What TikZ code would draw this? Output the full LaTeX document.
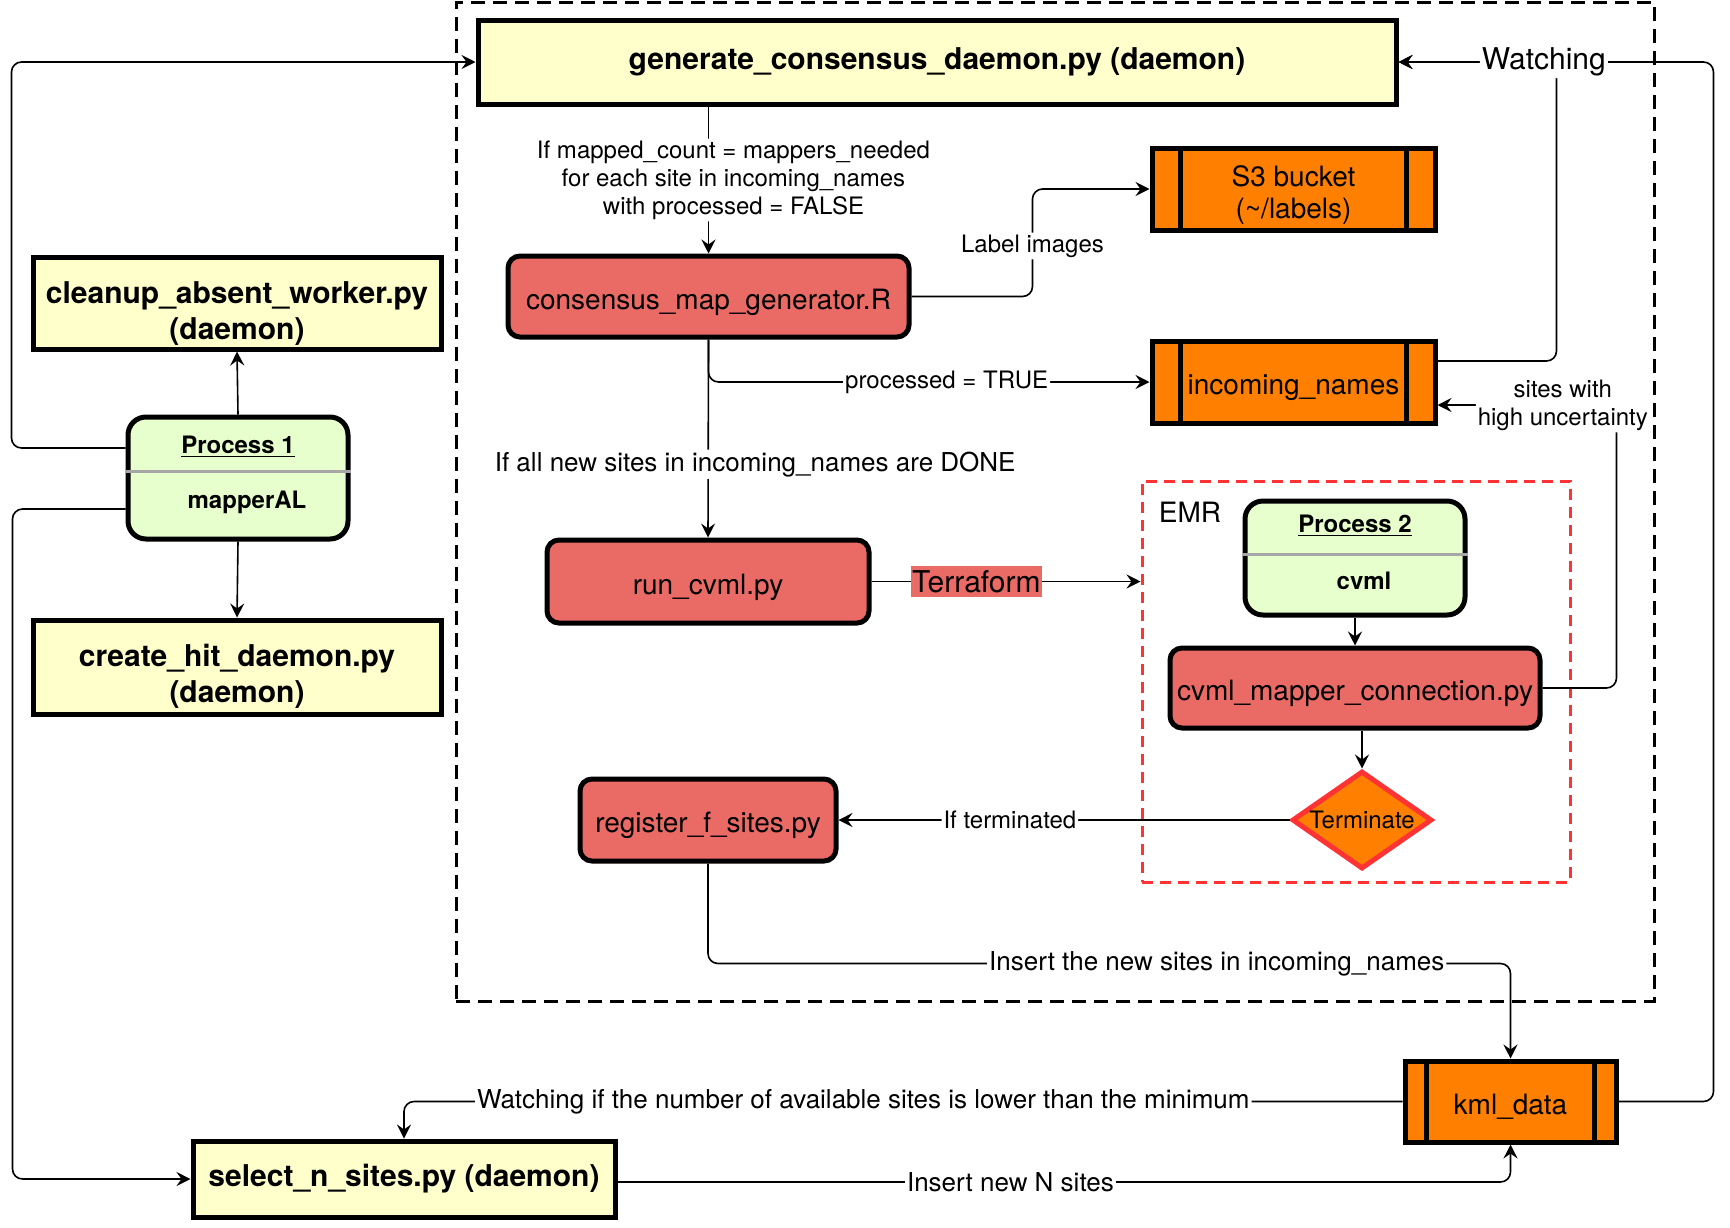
\documentclass[tikz,border=0pt]{standalone}
\usepackage{fontspec}
\setmainfont{TeX Gyre Heros}
\usepackage{tikz}
\usetikzlibrary{arrows.meta,positioning,shapes.geometric,calc}

\definecolor{daemonyellow}{HTML}{FFFFCC}
\definecolor{scriptred}{HTML}{EA6B66}
\definecolor{storeorange}{HTML}{FF8000}
\definecolor{procgreen}{HTML}{E6FFCC}
\definecolor{emrred}{HTML}{FF3333}

\begin{document}
\begin{tikzpicture}[
    x=0.5pt, y=-0.5pt,
    daemon/.style={draw=black, fill=daemonyellow, line width=2.5pt, align=center, inner sep=0pt, font=\bfseries\fontsize{15}{18}\selectfont},
    script/.style={draw=black, fill=scriptred, rounded corners=6pt, line width=2.5pt, inner sep=0pt, font=\fontsize{14}{16}\selectfont,
        execute at begin node={\rule{0pt}{15.7pt}}},
    store/.style={draw=black, fill=storeorange, line width=2.5pt, align=center, inner sep=0pt, font=\fontsize{14}{16}\selectfont,
        path picture={
            \draw[line width=2.5pt] ($(path picture bounding box.north west)!0.1!(path picture bounding box.north east)$) -- ($(path picture bounding box.south west)!0.1!(path picture bounding box.south east)$);
            \draw[line width=2.5pt] ($(path picture bounding box.north east)!0.1!(path picture bounding box.north west)$) -- ($(path picture bounding box.south east)!0.1!(path picture bounding box.south west)$);
        }},
    procbox/.style={draw=black, fill=procgreen, rounded corners=9pt, line width=2.5pt, align=center, inner sep=0pt, font=\bfseries\fontsize{12}{14}\selectfont},
    divider/.style={draw=black!35, line width=1.5pt},
    termbox/.style={diamond, draw=emrred, fill=storeorange, line width=2.5pt, inner sep=0pt},
    corebox/.style={draw=black, dash pattern=on 7pt off 4pt, line width=1.5pt},
    emrbox/.style={draw=emrred, dash pattern=on 5.5pt off 3.5pt, line width=1.5pt},
    arrow/.style={-{Stealth[length=7pt,width=7pt,inset=2.5pt]}, line width=0.8pt, rounded corners=5pt},
    note/.style={fill=white, inner sep=1pt, align=center, font=\fontsize{12}{14}\selectfont},
    bignote/.style={note, font=\fontsize{13}{15}\selectfont},
    terraform/.style={fill=scriptred, sharp corners, inner xsep=0.5pt, inner ysep=2pt, font=\fontsize{15}{17}\selectfont}
]
    \useasboundingbox (0,0) rectangle (1730,1227);

    % Groups
    \node[corebox, minimum width=599pt, minimum height=499.5pt] (core) at (1055,501.5) {};
    \node[emrbox, minimum width=214pt, minimum height=200.5pt] (emr) at (1356,681.5) {};
    \node[font=\fontsize{14}{16}\selectfont] (emrname) at (1190,512) {EMR};

    % Daemons
    \node[daemon, minimum width=459pt, minimum height=42pt] (generate) at (937,62) {generate\_consensus\_daemon.py (daemon)};
    \node[daemon, minimum width=204pt, minimum height=46pt] (cleanup) at (237,303) {\rule{0pt}{21pt}cleanup\_absent\_worker.py\\(daemon)};
    \node[daemon, minimum width=204pt, minimum height=47pt] (createhit) at (237,667) {\rule{0pt}{20pt}create\_hit\_daemon.py\\(daemon)};
    \node[daemon, minimum width=211pt, minimum height=38pt] (select) at (404,1179) {select\_n\_sites.py (daemon)};

    % Processes
    \node[procbox, minimum width=110pt, minimum height=61pt] (p1) at (238,478) {\underline{Process 1}\\[13.5pt]\hspace*{9pt}mapperAL\rule[-6pt]{0pt}{0pt}};
    \draw[divider] (p1.west |- 0,471) -- (p1.east |- 0,471);
    \node[procbox, minimum width=110pt, minimum height=57pt] (p2) at (1355,558) {\underline{Process 2}\\[14.5pt]\hspace*{9pt}cvml\rule[-6pt]{0pt}{0pt}};
    \draw[divider] (p2.west |- 0,554) -- (p2.east |- 0,554);

    % Scripts
    \node[script, minimum width=200.5pt, minimum height=40.5pt] (consensus) at (708.5,296.5) {consensus\_map\_generator.R};
    \node[script, minimum width=161pt, minimum height=41.5pt] (runcvml) at (708,581.5) {run\_cvml.py};
    \node[script, minimum width=128pt, minimum height=41pt] (register) at (708,820) {register\_f\_sites.py};
    \node[script, minimum width=185pt, minimum height=40pt] (cvmlmap) at (1355,688) {cvml\_mapper\_connection.py};
    \node[termbox, minimum width=70pt, minimum height=49pt, label={[font=\fontsize{12}{14}\selectfont]center:Terminate}] (term) at (1362,820) {};

    % Stores
    \node[store, minimum width=141.5pt, minimum height=41pt] (s3) at (1293.5,189) {\rule{0pt}{16pt}S3 bucket\\(\textasciitilde/labels)};
    \node[store, minimum width=141.5pt, minimum height=41pt] (incoming) at (1293.5,382) {\rule{0pt}{15.7pt}incoming\_names};
    \node[store, minimum width=105.5pt, minimum height=40.5pt] (kml) at (1510.5,1101.5) {\rule{0pt}{15.7pt}kml\_data};

    % Process 1
    \draw[arrow] (p1.north) -- (cleanup.south);
    \draw[arrow] (p1.south) -- (createhit.north);
    \draw[arrow] ([yshift=15pt]p1.west) -- ++(-114,0) |- (generate.west);
    \draw[arrow] ([yshift=-15.5pt]p1.west) -- ++(-113,0) |- (select.west);

    % Consensus
    \draw[arrow] (consensus.north |- generate.south) -- node[note, midway, xshift=12.5pt] {If mapped\_count = mappers\_needed\\for each site in incoming\_names\\with processed = FALSE} (consensus.north);
    \draw[arrow] (consensus.east) -- ++(121,0) |- node[note, pos=0.235] {Label images} (s3.west);
    \draw[arrow] (consensus.south) |- node[note, pos=0.77] {processed = TRUE} (incoming.west);
    \draw[arrow] (consensus.south) -- node[bignote, pos=0.63, xshift=23.5pt] {If all new sites in incoming\_names are DONE} (runcvml.north);

    % EMR
    \draw[arrow] (runcvml.east) -- node[terraform, pos=0.39] {Terraform} (runcvml.east -| emr.west);
    \draw[arrow] (p2.south) -- (p2.south |- cvmlmap.north);
    \draw[arrow] (term.north |- cvmlmap.south) -- (term.north);
    \draw[arrow] (term.west) -- node[note, pos=0.62] {If terminated} (register.east);
    \draw[arrow] (cvmlmap.east) -- ++(74,0) |- node[note, pos=0.65] {sites with\\high uncertainty} ([yshift=-11.5pt]incoming.east);

    % Watching
    \draw[arrow] (kml.east) -- ++(95,0) |- (generate.east);
    \draw[arrow] ([yshift=10.5pt]incoming.east) -- ++(119,0) |- node[note, pos=0.54, font=\fontsize{15}{17}\selectfont] {Watching} (generate.east);

    % kml_data
    \draw[arrow] (register.south) -- ++(0,100) -| node[bignote, pos=0.317] {Insert the new sites in incoming\_names} (kml.north);
    \draw[arrow] (kml.west) -| node[bignote, pos=0.27] {Watching if the number of available sites is lower than the minimum} (select.north);
    \draw[arrow] ([yshift=-1.5pt]select.east) -| node[bignote, pos=0.22] {Insert new N sites} (kml.south);

\end{tikzpicture}
\end{document}
